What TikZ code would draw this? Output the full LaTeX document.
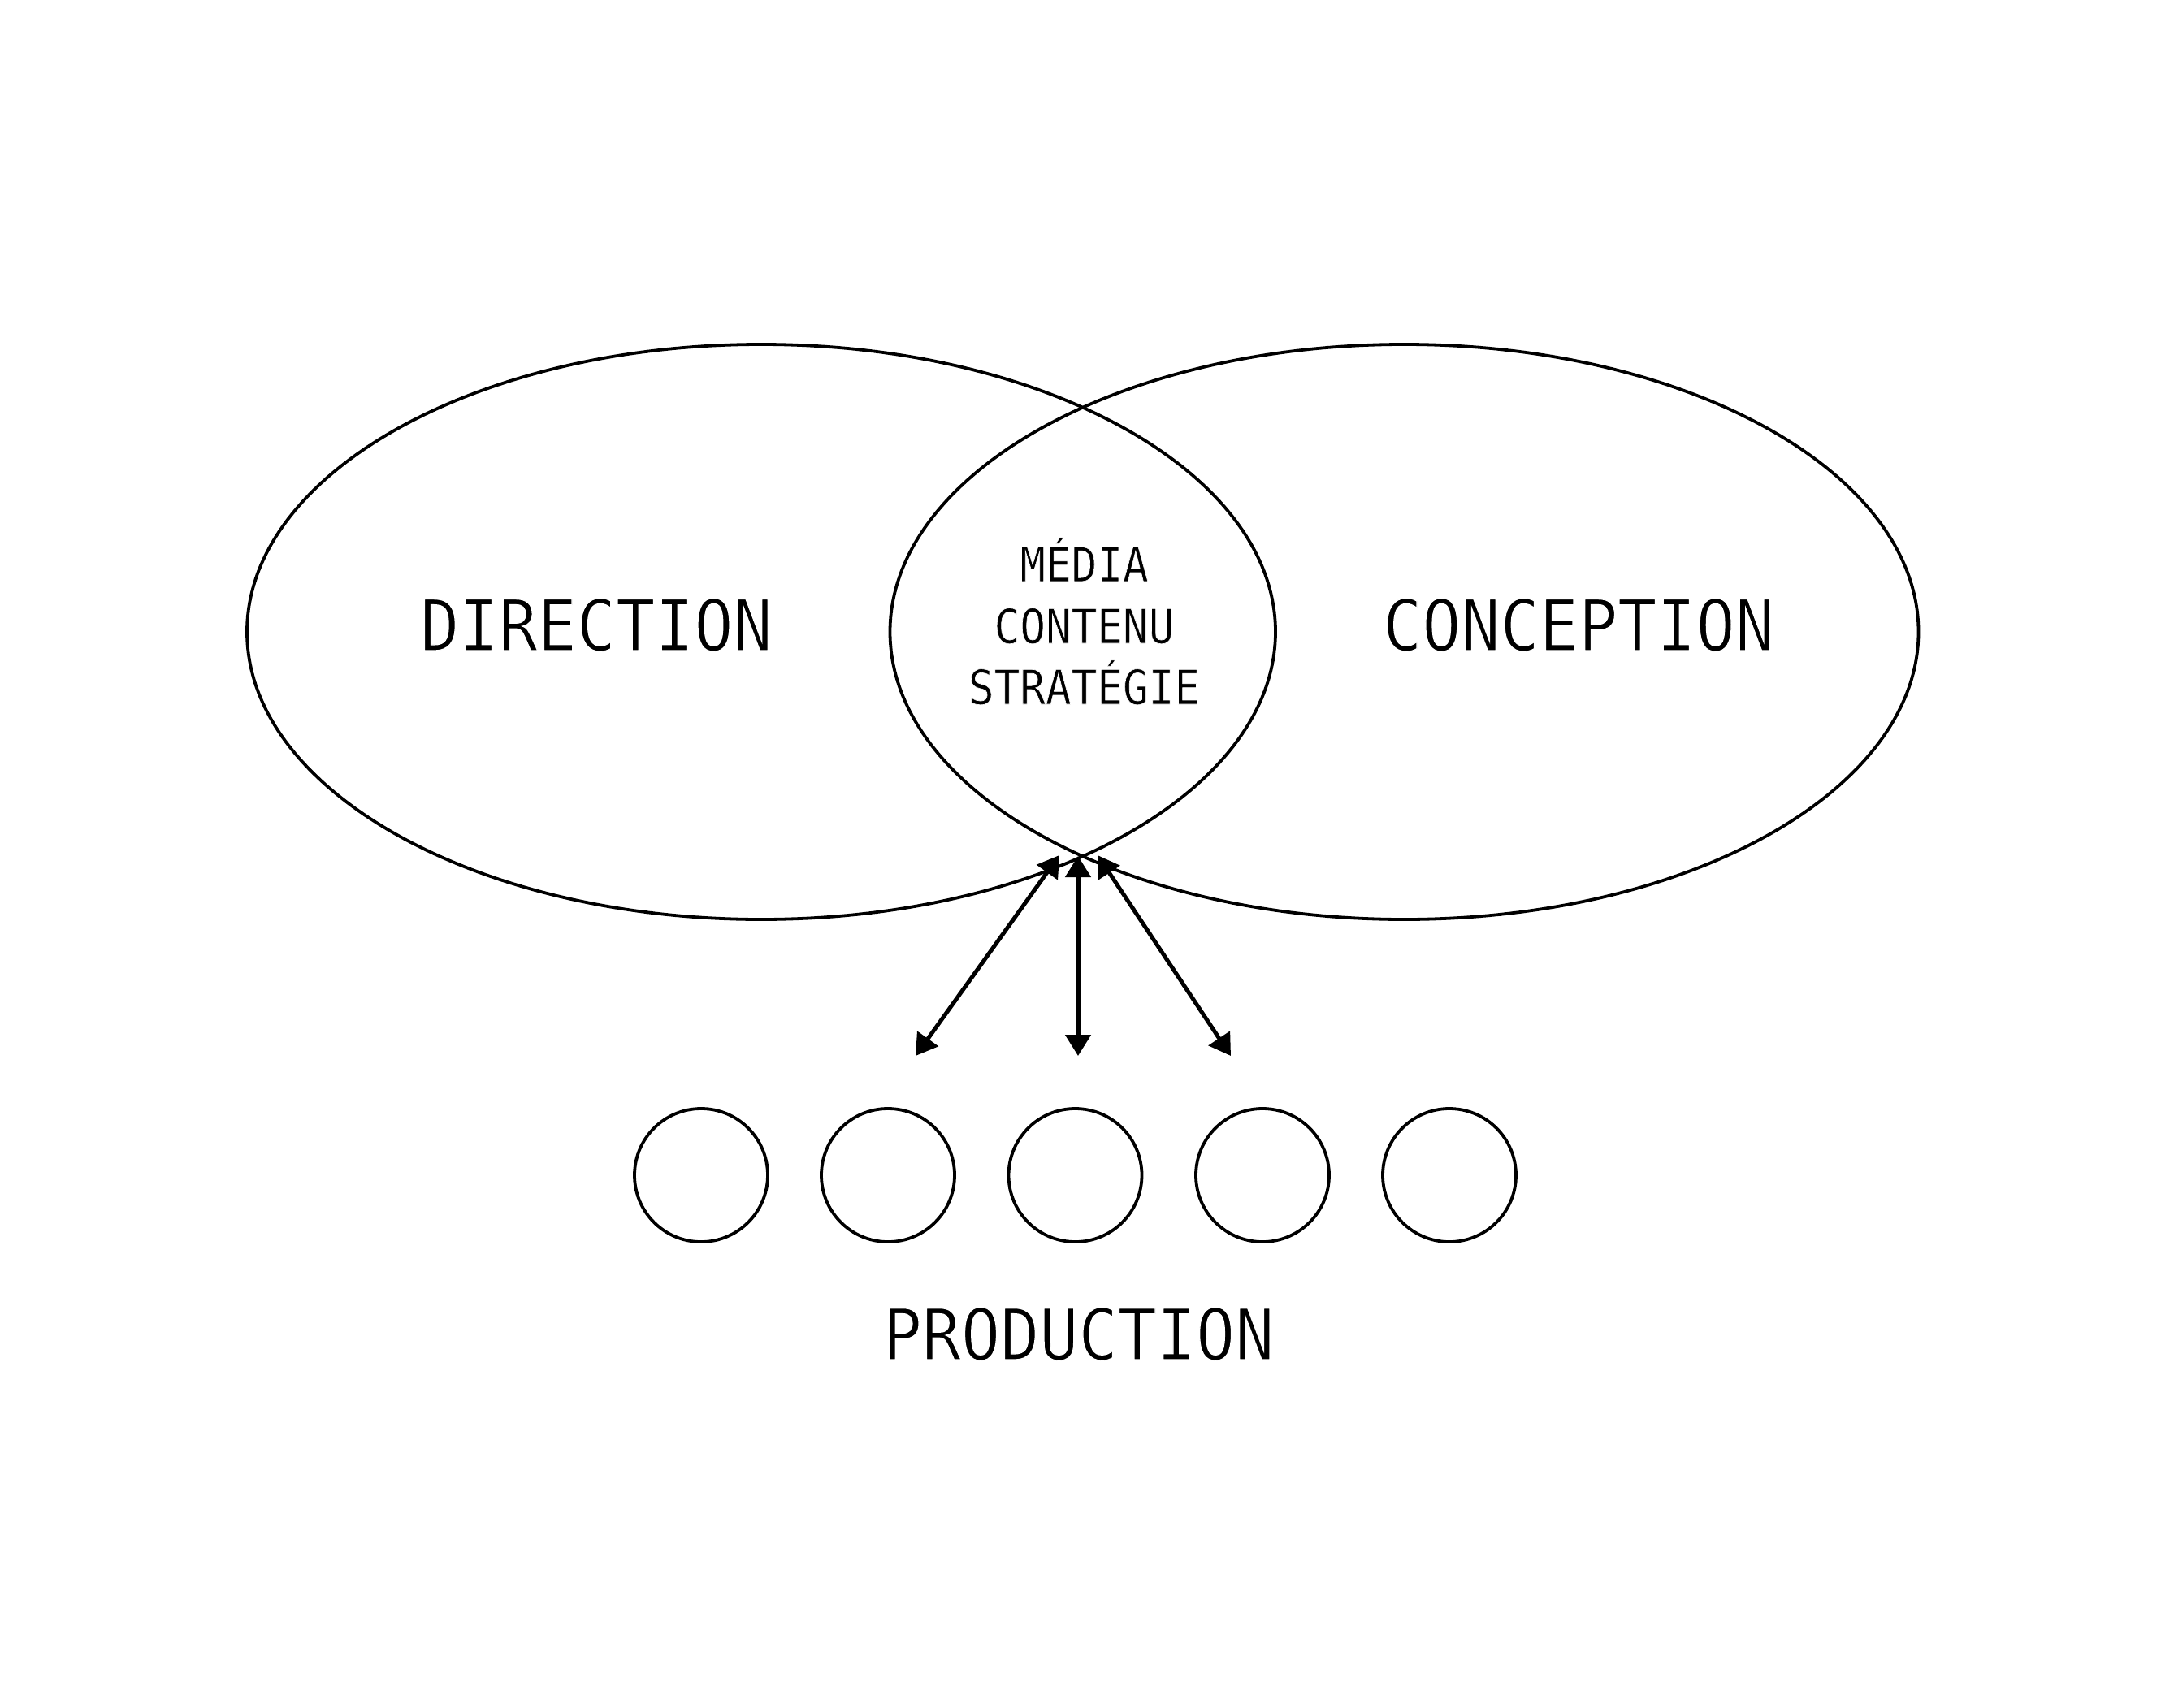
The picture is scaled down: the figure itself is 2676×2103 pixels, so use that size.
\documentclass[tikz,border=0pt]{standalone}
\usepackage{fontspec}
\usetikzlibrary{arrows.meta,shapes.geometric}
\newfontfamily\bigmono[FakeStretch=0.92]{DejaVu Sans Mono}
\newfontfamily\smallmono[FakeStretch=0.9]{DejaVu Sans Mono}
% thin the glyphs by stroking their outline in white
\newcommand\thinglyphs[2]{\special{pdf:code 2 Tr 1 G #1 w}#2\special{pdf:code 0 Tr 0 G}}
\begin{document}
\begin{tikzpicture}[x=1pt,y=-1pt,
  bigset/.style={ellipse,draw=black,line width=3.8pt,inner sep=0pt,
    minimum width=1266pt,minimum height=708pt},
  prodcircle/.style={circle,draw=black,line width=3.8pt,inner sep=0pt,minimum size=164pt},
  bigtext/.style={anchor=base,inner sep=0pt,font=\bigmono\fontsize{87}{100}\selectfont},
  smalltext/.style={anchor=base,inner sep=0pt,font=\smallmono\fontsize{58.5}{70}\selectfont},
  link/.style={line width=5pt,{Triangle[length=26pt,width=31pt]}-{Triangle[length=26pt,width=31pt]}}]
\useasboundingbox (0,0) rectangle (2676,2103);
\fill[white] (0,0) rectangle (2676,2103);
% sets
\node[bigset] (dir) at (937,778) {};
\node[bigset] (con) at (1728.5,778) {};
% labels
\node[bigtext] (tdir) at (734,801) {\thinglyphs{1.3}{DIRECTION}};
\node[bigtext] (tcon) at (1943,801) {\thinglyphs{1.3}{CONCEPTION}};
\node[smalltext] (media) at (1334.5,716) {\thinglyphs{0.6}{MÉDIA}};
\node[smalltext] (contenu) at (1334.5,792) {\thinglyphs{0.6}{CONTENU}};
\node[smalltext] (strat) at (1334.5,867) {\thinglyphs{0.6}{STRATÉGIE}};
% production circles
\node[prodcircle] (p1) at (863,1447) {};
\node[prodcircle] (p2) at (1093,1447) {};
\node[prodcircle] (p3) at (1323.5,1447) {};
\node[prodcircle] (p4) at (1554,1447) {};
\node[prodcircle] (p5) at (1784,1447) {};
\node[bigtext] (tprod) at (1327.5,1674) {\thinglyphs{1.3}{PRODUCTION}};
% arrow ends
\coordinate (la) at (1304,1053);
\coordinate (ca) at (1327,1054);
\coordinate (ra) at (1351,1053);
\coordinate (lb) at (1127,1300);
\coordinate (cb) at (1327,1300);
\coordinate (rb) at (1515,1300);
\draw[link] (la) -- (lb);
\draw[link] (ca) -- (cb);
\draw[link] (ra) -- (rb);
\end{tikzpicture}
\end{document}
